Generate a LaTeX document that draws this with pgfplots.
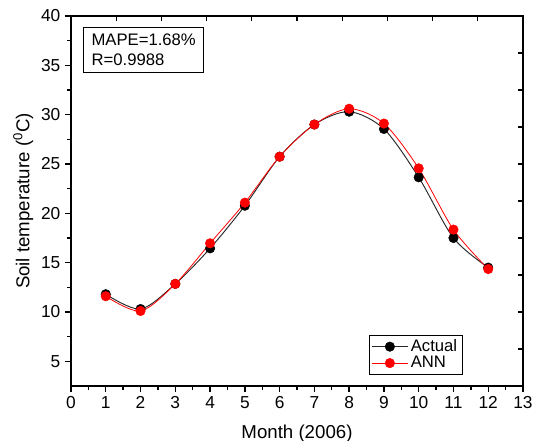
\documentclass[border=0pt]{standalone}
\usepackage{pgfplots}
\pgfplotsset{compat=1.18}
\usepackage{fontspec}
\setmainfont{Liberation Sans}
\begin{document}
\begin{tikzpicture}
\begin{axis}[
  at={(0,0)}, anchor=south west,
  scale only axis,
  width=339pt, height=277.5pt,
  xmin=0, xmax=13, ymin=2.5, ymax=40,
  xtick={0,1,...,13},
  ytick={5,10,...,40},
  minor x tick num=1,
  minor y tick num=1,
  xtick pos=bottom, ytick pos=left,
  tick align=outside,
  major tick length=4.5pt,
  minor tick length=3pt,
  tick style={line width=1pt, black},
  axis line style={line width=1.1pt},
  /pgf/number format/assume math mode=true,
  ticklabel style={font=\fontsize{13}{15}\selectfont},
  xlabel={Month (2006)},
  ylabel={Soil temperature (\textsuperscript{0}C)},
  label style={font=\fontsize{14}{16}\selectfont},
  xlabel style={yshift=-5.5pt},
  ylabel style={yshift=-1pt},
  legend style={at={(rel axis cs:0.867,0.03)}, anchor=south east,
    font=\fontsize{12.5}{14}\selectfont, draw=black, line width=0.6pt,
    inner xsep=2pt, inner ysep=1.5pt, row sep=-2pt},
  legend cell align=left,
  legend image code/.code={\draw[mark repeat=2,mark phase=2,#1] plot coordinates {(0cm,0cm) (0.47cm,0cm) (0.94cm,0cm)};},
]
\addplot[black!85, line width=0.7pt, smooth, mark=*, mark size=3.6pt, mark options={fill=black, draw=black, line width=0.3pt}]
coordinates {(1,11.8) (2,10.3) (3,12.85) (4,16.45) (5,20.77) (6,25.74) (7,29.0) (8,30.3) (9,28.55) (10,23.65) (11,17.5) (12,14.5)};
\addlegendentry{Actual}
\addplot[red, line width=0.6pt, smooth, mark=*, mark size=3.6pt, mark options={fill=red, draw=red, line width=0.3pt}]
coordinates {(1,11.6) (2,10.1) (3,12.85) (4,16.96) (5,21.08) (6,25.74) (7,29.0) (8,30.6) (9,29.1) (10,24.56) (11,18.35) (12,14.35)};
\addlegendentry{ANN}
\node[draw=black, line width=0.6pt, anchor=north west, align=left, inner xsep=6pt, inner ysep=5pt, font=\fontsize{12.5}{15}\selectfont]
  at (rel axis cs:0.027,0.97) {MAPE=1.68\%\\R=0.9988};
\end{axis}
\begin{axis}[
  at={(0,0)}, anchor=south west,
  scale only axis,
  width=339pt, height=277.5pt,
  xmin=0, xmax=13, ymin=2.5, ymax=40,
  xtick={1.3,2.6,3.9,5.2,6.5,7.8,9.1,10.4,11.7},
  ytick={6.25,10,13.75,17.5,21.25,25,28.75,32.5,36.25},
  xticklabels={}, yticklabels={},
  xtick pos=top, ytick pos=right,
  tick align=inside,
  major tick length=3.5pt,
  tick style={line width=1pt, black},
  axis line style={draw=none},
]
\end{axis}
\pgfresetboundingbox
\useasboundingbox (-53.25pt,-41.25pt) rectangle (346.5pt,289.5pt);
\end{tikzpicture}
\end{document}
